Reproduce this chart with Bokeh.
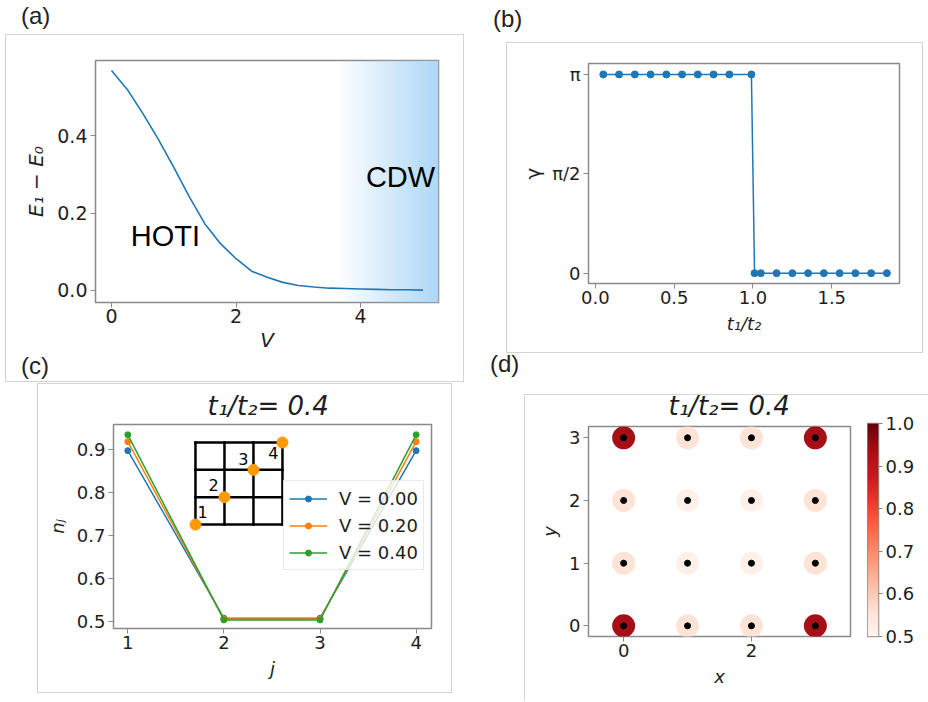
import numpy as np
from bokeh.plotting import figure
from bokeh.layouts import row, column
from bokeh.models import (Range1d, FixedTicker, Label, LinearColorMapper, Legend, LegendItem,
                          ColumnDataSource, PrintfTickFormatter, Div, Spacer)
from bokeh.embed import file_html
from bokeh.resources import INLINE
from bokeh.core.properties import value

# ---------------- data ----------------
# (a) excitation gap vs interaction V
V_vals = [0.0, 0.25, 0.5, 0.75, 1.0, 1.25, 1.5, 1.75, 2.0, 2.25, 2.5, 2.75, 3.0,
          3.25, 3.5, 3.75, 4.0, 4.25, 4.5, 4.75, 5.0]
gap_vals = [0.568, 0.520, 0.458, 0.391, 0.318, 0.242, 0.172, 0.121, 0.082, 0.050,
            0.034, 0.021, 0.013, 0.009, 0.006, 0.005, 0.004, 0.003, 0.002, 0.002, 0.001]
cdw_start = 3.6
cdw_end = 5.25
phase_labels = ["HOTI", "CDW"]

# (b) Berry phase vs t1/t2
t_ratio = [0.05, 0.15, 0.25, 0.35, 0.45, 0.55, 0.65, 0.75, 0.85, 0.99,
           1.01, 1.05, 1.15, 1.25, 1.35, 1.45, 1.55, 1.65, 1.75, 1.85]
gamma = [np.pi] * 10 + [0.0] * 10

# (c) occupation on diagonal sites
sites_j = [1, 2, 3, 4]
n_V000 = [0.897, 0.507, 0.507, 0.897]
n_V020 = [0.918, 0.505, 0.505, 0.918]
n_V040 = [0.934, 0.503, 0.503, 0.934]
V_labels = ["V = 0.00", "V = 0.20", "V = 0.40"]
site_labels = ["1", "2", "3", "4"]

# (d) density on the 4x4 lattice
lattice_x = [0, 1, 2, 3] * 4
lattice_y = [0] * 4 + [1] * 4 + [2] * 4 + [3] * 4
density = [0.934, 0.555, 0.555, 0.934,
           0.555, 0.515, 0.515, 0.555,
           0.555, 0.515, 0.515, 0.555,
           0.934, 0.555, 0.555, 0.934]
cbar_ticks = [0.5, 0.6, 0.7, 0.8, 0.9, 1.0]

title_text = "t\u2081/t\u2082= 0.4"
panel_names = ["(a)", "(b)", "(c)", "(d)"]

# ---------------- helpers ----------------
FONT = "DejaVu Sans"
TXT = "#1e1e1e"
SPINE = "#8a8a8a"
BOXC = "#d3d3d3"
BOX = {"outline": "1px solid " + BOXC}
BLUE, ORANGE, GREEN = "#1f77b4", "#ff7f0e", "#2ca02c"


def make_fig(w, h, xr, yr, left, right, top, bottom, **kw):
    p = figure(width=w, height=h, x_range=Range1d(*xr), y_range=Range1d(*yr),
               toolbar_location=None, output_backend="svg",
               min_border_left=left, min_border_right=right,
               min_border_top=top, min_border_bottom=bottom, **kw)
    p.frame_align = False
    return p


def style(p, tick_size="18px", label_size="18px"):
    p.outline_line_color = SPINE
    p.outline_line_width = 1.5
    p.background_fill_color = "white"
    p.border_fill_color = "white"
    p.xgrid.grid_line_color = None
    p.ygrid.grid_line_color = None
    for ax in p.axis:
        ax.axis_line_color = None
        ax.major_tick_line_color = SPINE
        ax.major_tick_line_width = 1
        ax.major_tick_out = 5
        ax.major_tick_in = 0
        ax.minor_tick_line_color = None
        ax.major_label_text_font = FONT
        ax.major_label_text_font_size = tick_size
        ax.major_label_text_color = TXT
        ax.major_label_standoff = 3
        ax.axis_label_text_font = FONT
        ax.axis_label_text_font_size = label_size
        ax.axis_label_text_font_style = "italic"
        ax.axis_label_text_color = TXT
        ax.axis_label_standoff = 6


def set_title(p, text, offset, size, standoff):
    p.title.text = text
    p.title.align = "left"
    p.title.offset = offset
    p.title.text_font = FONT
    p.title.text_font_size = size
    p.title.text_font_style = "italic"
    p.title.text_color = TXT
    p.title.standoff = standoff


def label_div(text, w, h, left, top, size=24):
    html = ('<div style="position:relative; left:%dpx; top:%dpx; font-family:\'Liberation Sans\';'
            ' font-size:%dpx; line-height:%dpx; color:#222; white-space:nowrap;">%s</div>'
            % (left, top, size, size, text))
    return Div(text=html, width=w, height=h, margin=0)


def reds_palette(n=256):
    base = ['#fff5f0', '#fee0d2', '#fcbba1', '#fc9272', '#fb6a4a',
            '#ef3b2c', '#cb181d', '#a50f15', '#67000d']
    rgb = np.array([[int(c[i:i + 2], 16) for i in (1, 3, 5)] for c in base], dtype=float)
    pos = np.linspace(0, 1, len(base))
    out = []
    for tt in np.linspace(0, 1, n):
        r, g, b = (np.interp(tt, pos, rgb[:, k]) for k in range(3))
        out.append("#%02x%02x%02x" % (int(round(r)), int(round(g)), int(round(b))))
    return out


# ---------------- (a) ----------------
pa = make_fig(457, 322, (-0.257, 5.25), (-0.031, 0.594), 89, 25, 25, 55)
N = 160
grad = np.zeros((1, N), dtype=np.uint32)
view = grad.view(dtype=np.uint8).reshape((1, N, 4))
view[0, :, 0] = 172
view[0, :, 1] = 215
view[0, :, 2] = 246
view[0, :, 3] = np.linspace(0, 255, N).astype(np.uint8)
pa.image_rgba(image=[grad], x=cdw_start, y=-0.031, dw=cdw_end - cdw_start, dh=0.625)
pa.line(V_vals, gap_vals, line_color=BLUE, line_width=1.6)
pa.xaxis.ticker = FixedTicker(ticks=[0, 2, 4])
pa.yaxis.ticker = FixedTicker(ticks=[0.0, 0.2, 0.4])
pa.yaxis.formatter = PrintfTickFormatter(format="%.1f")
pa.xaxis.axis_label = "V"
pa.yaxis.axis_label = "E\u2081 \u2212 E\u2080"
style(pa, tick_size="19px", label_size="20px")
pa.xaxis.major_label_standoff = 1
pa.xaxis.axis_label_standoff = 2
pa.add_layout(Label(x=0.867, y=0.142, text=phase_labels[0], text_align="center",
                    text_baseline="middle", text_font="Liberation Sans",
                    text_font_size="29px", text_color="black"))
pa.add_layout(Label(x=4.64, y=0.292, text=phase_labels[1], text_align="center",
                    text_baseline="middle", text_font="Liberation Sans",
                    text_font_size="29px", text_color="black"))

# ---------------- (b) ----------------
pb = make_fig(415, 309, (-0.044, 1.93), (-0.052 * np.pi, 1.055 * np.pi), 81, 23, 20, 69)
pb.line(t_ratio, gamma, line_color=BLUE, line_width=1.5)
pb.scatter(t_ratio, gamma, color=BLUE, size=7)
pb.xaxis.ticker = FixedTicker(ticks=[0.0, 0.5, 1.0, 1.5])
pb.xaxis.formatter = PrintfTickFormatter(format="%.1f")
pb.yaxis.ticker = FixedTicker(ticks=[0.0, np.pi / 2, np.pi])
pb.yaxis.major_label_overrides = {0.0: "0", np.pi / 2: "\u03c0/2", np.pi: "\u03c0"}
pb.xaxis.axis_label = "t\u2081/t\u2082"
pb.yaxis.axis_label = "\u03b3"
style(pb)
pb.yaxis.axis_label_text_font_style = "normal"
pb.yaxis.axis_label_text_font_size = "20px"
pb.xaxis.major_label_standoff = 2
pb.yaxis.axis_label_standoff = 4
pb.styles = BOX

# ---------------- (c) ----------------
pc = make_fig(413, 308, (0.851, 4.16), (0.483, 0.958), 75, 20, 40, 64)
items = []
for vals, col, lab in zip([n_V000, n_V020, n_V040], [BLUE, ORANGE, GREEN], V_labels):
    l = pc.line(sites_j, vals, line_color=col, line_width=1.5)
    s = pc.scatter(sites_j, vals, color=col, size=6)
    items.append(LegendItem(label=lab, renderers=[l, s]))

# inset: 3x3 lattice with the diagonal sites
ix0, iy0, cw, ch = 1.704, 0.725, 0.3017, 0.0637
gx, gy = [], []
for i in range(4):
    gx.append([ix0 + i * cw, ix0 + i * cw]); gy.append([iy0, iy0 + 3 * ch])
    gx.append([ix0, ix0 + 3 * cw]); gy.append([iy0 + i * ch, iy0 + i * ch])
pc.multi_line(gx, gy, line_color="black", line_width=2.5, line_cap="square")
dx = [ix0 + k * cw for k in range(4)]
dy = [iy0 + k * ch for k in range(4)]
pc.scatter(dx, dy, color="#ff9a05", size=11)
pc.text(x=dx, y=dy, text=site_labels, x_offset=[7, -11, -10, -9], y_offset=[-13, -12, -11, 11],
        text_align="center", text_baseline="middle", text_font=value(FONT),
        text_font_size="16px", text_color="black")

legend = Legend(items=items, location=(170, 58), orientation="vertical")
legend.label_text_font = FONT
legend.label_text_font_size = "18px"
legend.label_text_color = TXT
legend.glyph_width = 38
legend.glyph_height = 15
legend.label_height = 24
legend.label_standoff = 12
legend.spacing = 3
legend.padding = 5
legend.margin = 0
legend.border_line_color = "#d6d6d6"
legend.background_fill_alpha = 0.8
pc.add_layout(legend)

pc.xaxis.ticker = FixedTicker(ticks=[1, 2, 3, 4])
pc.yaxis.ticker = FixedTicker(ticks=[0.5, 0.6, 0.7, 0.8, 0.9])
pc.yaxis.formatter = PrintfTickFormatter(format="%.1f")
pc.xaxis.axis_label = "j"
pc.yaxis.axis_label = "n\u2c7c"
set_title(pc, title_text, 94, "26px", 8)
style(pc)
pc.xaxis.major_label_standoff = 2
pc.styles = BOX

# ---------------- (d) ----------------
mapper = LinearColorMapper(palette=reds_palette(), low=0.5, high=1.0)
pd_ = make_fig(343, 318, (-0.55, 3.55), (-0.17, 3.18), 64, 17, 40, 65)
src = ColumnDataSource(dict(x=lattice_x, y=lattice_y, n=density))
pd_.scatter("x", "y", source=src, size=23, line_color=None,
            fill_color={"field": "n", "transform": mapper})
pd_.scatter("x", "y", source=src, size=6, color="black")
pd_.xaxis.ticker = FixedTicker(ticks=[0, 2])
pd_.yaxis.ticker = FixedTicker(ticks=[0, 1, 2, 3])
pd_.xaxis.axis_label = "x"
pd_.yaxis.axis_label = "y"
set_title(pd_, title_text, 80, "26px", 11)
style(pd_)
pd_.xaxis.major_label_standoff = 2
pd_.border_fill_alpha = 0

# colorbar as its own small figure
pcb = make_fig(61, 318, (0, 1), (0.5, 1.0), 0, 50, 40, 65,
               x_axis_location=None, y_axis_location="right")
pcb.image(image=[np.linspace(0.5, 1.0, 256).reshape(-1, 1)], x=0, y=0.5, dw=1, dh=0.5,
          color_mapper=mapper)
pcb.yaxis.ticker = FixedTicker(ticks=cbar_ticks)
pcb.yaxis.formatter = PrintfTickFormatter(format="%.1f")
style(pcb)
pcb.yaxis.major_tick_out = 4
pcb.border_fill_alpha = 0

# ---------------- layout ----------------
div_a = label_div(panel_names[0], 464, 35, 21, 4)
div_c = label_div(panel_names[2], 457, 24, 15, -3)
wrap_a = column(pa, div_c, styles=BOX)
left_col = column(div_a,
                  row(Spacer(width=6, height=346), wrap_a),
                  Spacer(width=10, height=3),
                  row(Spacer(width=38, height=308), pc))

div_b = label_div(panel_names[1], 464, 43, 29, 7)
div_d = label_div(panel_names[3], 464, 31, 26, 0)
line_bg = {
    "background-image": "linear-gradient(%s, %s), linear-gradient(%s, %s)" % (BOXC, BOXC, BOXC, BOXC),
    "background-size": "100% 1px, 1px 100%",
    "background-position": "0px 11px, 0px 11px",
    "background-repeat": "no-repeat",
}
wrap_d = row(pd_, pcb, styles=line_bg)
right_col = column(div_b,
                   row(Spacer(width=43, height=309), pb),
                   div_d,
                   row(Spacer(width=60, height=318), wrap_d))

layout = row(left_col, right_col)
open("out.html", "w").write(file_html(layout, INLINE))
